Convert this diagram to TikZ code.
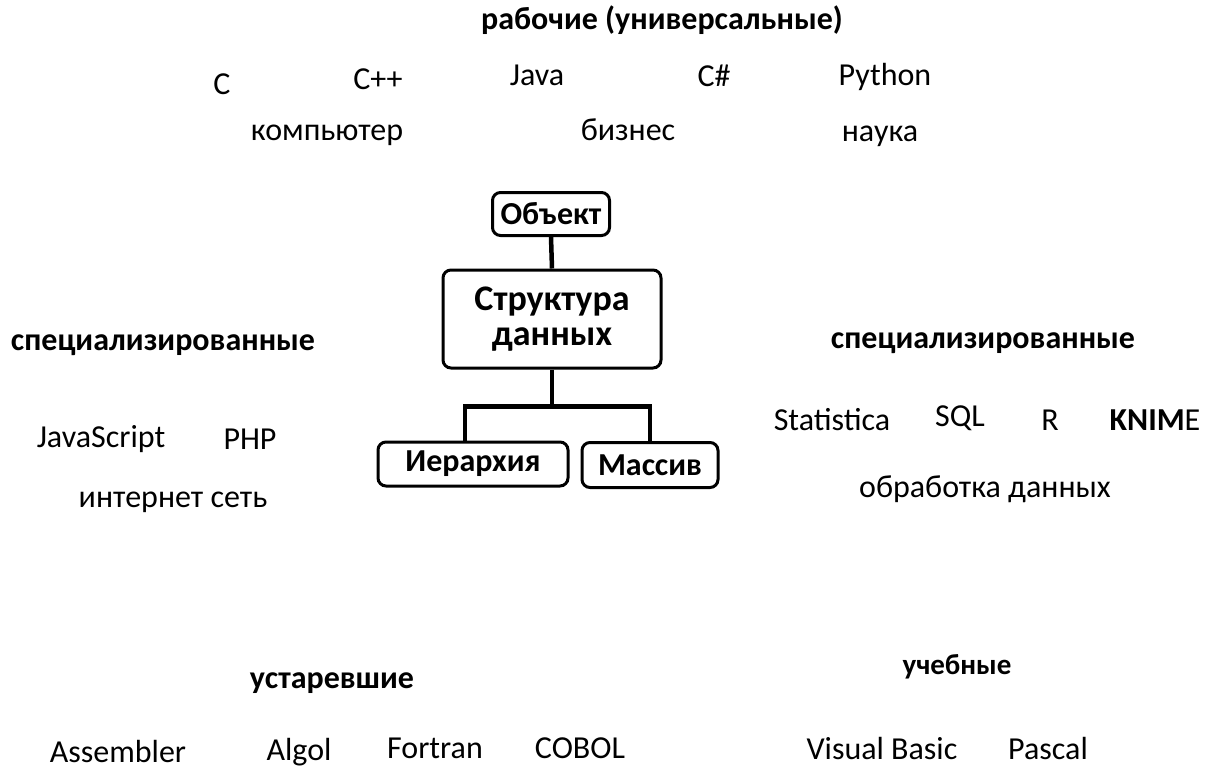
\documentclass[tikz,border=0pt]{standalone}
\usepackage{fontspec}
\setmainfont{Carlito}
\begin{document}
\begin{tikzpicture}[x=1pt,y=-1pt,
  txt/.style={inner sep=0pt,anchor=base,font=\fontsize{32}{38}\selectfont},
  hdr/.style={inner sep=0pt,anchor=base,font=\fontsize{32}{38}\selectfont\bfseries},
  box/.style={draw,line width=3pt,rounded corners=8pt,font=\fontsize{32}{38}\selectfont\bfseries,align=center,inner sep=0pt},
  conn/.style={line width=4.5pt}]
\useasboundingbox (0,0) rectangle (1219,776);
% top
\node[hdr] (work) at (662,30) {рабочие (универсальные)};
\node[txt] (c) at (222,95) {C};
\node[txt] (cpp) at (378,90) {C++};
\node[txt] (java) at (537,85) {Java};
\node[txt] (cs) at (714,86) {C\#};
\node[txt] (py) at (885,85) {Python};
\node[txt] (comp) at (327,140) {компьютер};
\node[txt] (biz) at (628,140) {бизнес};
\node[txt] (sci) at (880,141) {наука};
% tree
\node[box,minimum width=117pt,minimum height=43pt] (obj) at (551,214) {Объект};
\node[box,minimum width=218pt,minimum height=98pt,font=\fontsize{36}{35}\selectfont\bfseries] (str) at (552,319) {Структура\\данных};
\node[box,minimum width=190pt,minimum height=44pt] (hier) at (473,464) {Иерархия};
\node[box,minimum width=136pt,minimum height=45pt] (arr) at (650,465) {Массив};
\draw[conn] (obj.south) -- (str.north);
\draw[conn] (str.south) -- ++(0,37) coordinate (j);
\draw[conn] (j) -| ([xshift=-8pt]hier.north);
\draw[conn] (j) -| (arr.north);
% left
\node[hdr] (specl) at (163,350) {специализированные};
\node[txt] (js) at (101,447) {JavaScript};
\node[txt] (php) at (250,449) {PHP};
\node[txt] (net) at (173,507) {интернет сеть};
% right
\node[hdr] (specr) at (983,348) {специализированные};
\node[txt] (stat) at (832,430) {Statistica};
\node[txt] (sql) at (960,426) {SQL};
\node[txt] (r) at (1050,430) {R};
\node[txt] (knime) at (1155,430) {\textbf{KNIM}E};
\node[txt] (data) at (985,497) {обработка данных};
% bottom
\node[hdr] (old) at (332,688) {устаревшие};
\node[hdr,font=\fontsize{29}{34}\selectfont\bfseries] (edu) at (957,674) {учебные};
\node[txt] (asm) at (118,762) {Assembler};
\node[txt] (algol) at (299,760) {Algol};
\node[txt] (fort) at (435,758) {Fortran};
\node[txt] (cobol) at (580,758) {COBOL};
\node[txt] (vb) at (882,759) {Visual Basic};
\node[txt] (pas) at (1048,759) {Pascal};
\end{tikzpicture}
\end{document}
